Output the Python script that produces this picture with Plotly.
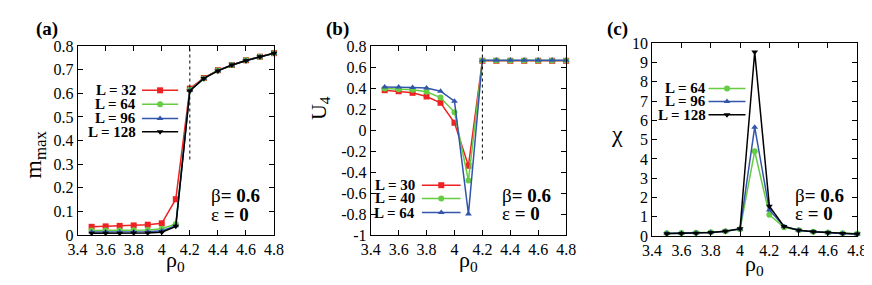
import plotly.graph_objects as go

# ---------------- data ----------------
rho = [3.5, 3.6, 3.7, 3.8, 3.9, 4.0, 4.1, 4.2, 4.3, 4.4, 4.5, 4.6, 4.7, 4.8]

# (a) m_max
m_L32 = [0.035, 0.037, 0.039, 0.041, 0.044, 0.050, 0.152, 0.620, 0.665, 0.698, 0.720, 0.740, 0.755, 0.770]
m_L64 = [0.020, 0.020, 0.020, 0.021, 0.022, 0.027, 0.047, 0.615, 0.663, 0.697, 0.720, 0.740, 0.755, 0.770]
m_L96 = [0.013, 0.013, 0.013, 0.013, 0.014, 0.018, 0.040, 0.612, 0.663, 0.696, 0.720, 0.739, 0.755, 0.770]
m_L128 = [0.008, 0.008, 0.008, 0.009, 0.009, 0.012, 0.037, 0.610, 0.663, 0.695, 0.720, 0.738, 0.755, 0.770]

# (b) U4
u_L30 = [0.380, 0.370, 0.355, 0.320, 0.260, 0.070, -0.340, 0.660, 0.660, 0.660, 0.660, 0.660, 0.660, 0.660]
u_L40 = [0.395, 0.390, 0.385, 0.365, 0.310, 0.170, -0.480, 0.662, 0.662, 0.662, 0.662, 0.662, 0.662, 0.662]
u_L64 = [0.410, 0.410, 0.405, 0.400, 0.370, 0.275, -0.800, 0.665, 0.665, 0.665, 0.665, 0.665, 0.665, 0.665]

# (c) chi
c_L64 = [0.15, 0.16, 0.17, 0.20, 0.25, 0.35, 4.40, 1.10, 0.45, 0.30, 0.22, 0.18, 0.14, 0.12]
c_L96 = [0.14, 0.15, 0.16, 0.19, 0.25, 0.37, 5.65, 1.35, 0.50, 0.30, 0.22, 0.17, 0.13, 0.11]
c_L128 = [0.12, 0.13, 0.15, 0.18, 0.25, 0.38, 9.55, 1.55, 0.50, 0.30, 0.22, 0.17, 0.13, 0.10]

rho_c = 4.2
dotted_a = [0.32, 0.8]
dotted_b = [-0.28, 0.8]

x_tickvals = [3.4, 3.6, 3.8, 4.0, 4.2, 4.4, 4.6, 4.8]
x_ticktext = ["3.4", "3.6", "3.8", "4", "4.2", "4.4", "4.6", "4.8"]
a_tickvals = [0, 0.1, 0.2, 0.3, 0.4, 0.5, 0.6, 0.7, 0.8]
a_ticktext = ["0", "0.1", "0.2", "0.3", "0.4", "0.5", "0.6", "0.7", "0.8"]
b_tickvals = [-1, -0.8, -0.6, -0.4, -0.2, 0, 0.2, 0.4, 0.6, 0.8]
b_ticktext = ["-1", "-0.8", "-0.6", "-0.4", "-0.2", "0", "0.2", "0.4", "0.6", "0.8"]
c_tickvals = list(range(0, 11))
c_ticktext = [str(v) for v in c_tickvals]

# ---------------- style ----------------
W, H = 872, 285
RED, GREEN, BLUE, BLACK = "#ee2222", "#66cc44", "#3355aa", "#000000"
FONT = "Liberation Serif, Times New Roman, serif"

def px(x):
    return x / W

def py(y):
    return 1 - y / H

panels = {
    "a": dict(x0=61, x1=262, y0=32, y1=233, xr=[3.4, 4.8], yr=[0, 0.8]),
    "b": dict(x0=361, x1=561, y0=32, y1=233, xr=[3.4, 4.8], yr=[-1, 0.8]),
    "c": dict(x0=649, x1=859, y0=29, y1=234, xr=[3.4, 4.8], yr=[0, 10]),
}
axis_ids = {"a": ("x", "y"), "b": ("x2", "y2"), "c": ("x3", "y3")}

fig = go.Figure()

def add_series(panel, xs, ys, color, symbol, size):
    xa, ya = axis_ids[panel]
    fig.add_trace(go.Scatter(
        x=xs, y=ys, mode="lines+markers", xaxis=xa, yaxis=ya,
        line=dict(color=color, width=1.5),
        marker=dict(color=color, symbol=symbol, size=size),
        cliponaxis=False, showlegend=False, hoverinfo="skip"))

series = {
    "a": [(m_L32, RED, "square", 6, "L = 32"), (m_L64, GREEN, "circle", 6, "L = 64"),
          (m_L96, BLUE, "triangle-up", 6, "L = 96"), (m_L128, BLACK, "triangle-down", 6, "L = 128")],
    "b": [(u_L30, RED, "square", 6, "L = 30"), (u_L40, GREEN, "circle", 6, "L = 40"),
          (u_L64, BLUE, "triangle-up", 6, "L = 64")],
    "c": [(c_L64, GREEN, "circle", 6, "L = 64"), (c_L96, BLUE, "triangle-up", 6, "L = 96"),
          (c_L128, BLACK, "triangle-down", 6, "L = 128")],
}

for p, lst in series.items():
    for ys, col, sym, sz, _ in lst:
        add_series(p, rho, ys, col, sym, sz)

# legend layout (fractions of panel): text right edge, line start, line end, row y's
legend_pos = {
    "a": dict(tx=0.308, l0=0.328, l1=0.512, rows=[0.766, 0.692, 0.617, 0.547]),
    "b": dict(tx=0.235, l0=0.262, l1=0.46, rows=[0.264, 0.194, 0.119]),
    "c": dict(tx=0.27, l0=0.275, l1=0.455, rows=[0.766, 0.698, 0.629]),
}

annotations = []
for p, lst in series.items():
    P = panels[p]
    lp = legend_pos[p]
    xa, ya = axis_ids[p]
    xr, yr = P["xr"], P["yr"]
    fx = lambda f: xr[0] + f * (xr[1] - xr[0])
    fy = lambda f: yr[0] + f * (yr[1] - yr[0])
    for (ys, col, sym, sz, name), ry in zip(lst, lp["rows"]):
        fig.add_trace(go.Scatter(
            x=[fx(lp["l0"]), fx(lp["l1"])], y=[fy(ry), fy(ry)], mode="lines",
            xaxis=xa, yaxis=ya, line=dict(color=col, width=1.5),
            showlegend=False, hoverinfo="skip", cliponaxis=False))
        fig.add_trace(go.Scatter(
            x=[fx((lp["l0"] + lp["l1"]) / 2)], y=[fy(ry)], mode="markers",
            xaxis=xa, yaxis=ya, marker=dict(color=col, symbol=sym, size=sz),
            showlegend=False, hoverinfo="skip", cliponaxis=False))
        annotations.append(dict(
            x=fx(lp["tx"]), y=fy(ry), xref=xa, yref=ya, text="<b>%s</b>" % name,
            showarrow=False, xanchor="right", yanchor="middle",
            font=dict(family=FONT, size=15, color="black")))

# dotted vertical lines
shapes = [
    dict(type="line", xref="x", yref="y", x0=rho_c, x1=rho_c, y0=dotted_a[0], y1=dotted_a[1],
         line=dict(color="black", width=1, dash="dot")),
    dict(type="line", xref="x2", yref="y2", x0=rho_c, x1=rho_c, y0=dotted_b[0], y1=dotted_b[1],
         line=dict(color="black", width=1, dash="dot")),
]

# axes
layout_axes = {}
yticks = {"a": (a_tickvals, a_ticktext), "b": (b_tickvals, b_ticktext), "c": (c_tickvals, c_ticktext)}
for p, P in panels.items():
    xa, ya = axis_ids[p]
    xkey = "xaxis" if xa == "x" else "xaxis" + xa[1:]
    ykey = "yaxis" if ya == "y" else "yaxis" + ya[1:]
    common = dict(showline=True, linecolor="black", linewidth=1, mirror="allticks",
                  ticks="inside", ticklen=5, tickcolor="black", tickwidth=1,
                  showgrid=False, zeroline=False, ticklabeloverflow="allow",
                  tickfont=dict(family=FONT, size=16, color="black"))
    layout_axes[xkey] = dict(domain=[px(P["x0"]), px(P["x1"])], range=P["xr"], anchor=ya,
                             tickvals=x_tickvals, ticktext=x_ticktext, **common)
    layout_axes[ykey] = dict(domain=[py(P["y1"]), py(P["y0"])], range=P["yr"], anchor=xa,
                             tickvals=yticks[p][0], ticktext=yticks[p][1], **common)

# text annotations: panel labels, axis titles, parameters
def ann(x, y, text, size, xanchor="center", textangle=0, bold=False):
    annotations.append(dict(x=px(x), y=py(y), xref="paper", yref="paper",
                            text=("<b>%s</b>" % text) if bold else text,
                            showarrow=False, xanchor=xanchor, yanchor="middle",
                            textangle=textangle,
                            font=dict(family=FONT, size=size, color="black")))

ann(30, 14, "(a)", 19, bold=True)
ann(327, 14, "(b)", 19, bold=True)
ann(614, 14, "(c)", 19, bold=True)

for cx, cy in [(161.5, 261), (461, 261), (754, 265)]:
    ann(cx, cy, "ρ<sub>0</sub>", 22)

ann(18, 148, "m<sub>max</sub>", 24, textangle=-90)
ann(309, 98, "U<sub>4</sub>", 22, textangle=-90)
ann(613, 126, "χ", 24)

for lx, by, ey in [(195, 191, 211), (493, 191, 210), (793, 191, 210)]:
    ann(lx, by, "β<b>= 0.6</b>", 19, xanchor="left")
    ann(lx, ey, "ε <b>= 0</b>", 19, xanchor="left")

fig.update_layout(
    width=W, height=H, margin=dict(l=0, r=0, t=0, b=0),
    paper_bgcolor="white", plot_bgcolor="white",
    showlegend=False, annotations=annotations, shapes=shapes,
    font=dict(family=FONT, color="black"),
    **layout_axes)

fig.write_html("out.html")
